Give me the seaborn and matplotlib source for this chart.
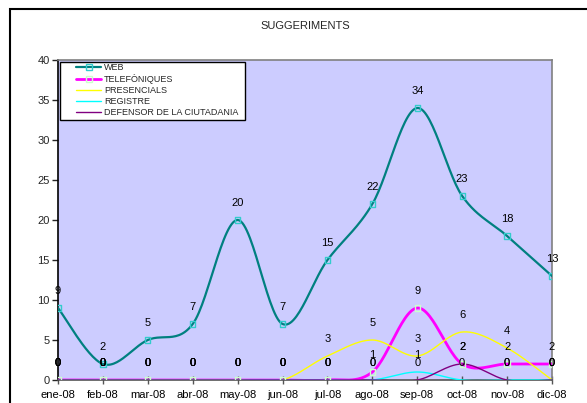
import numpy as np
import matplotlib
matplotlib.use("Agg")
import matplotlib.pyplot as plt
from matplotlib.lines import Line2D
from matplotlib.patches import Rectangle
import seaborn as sns

months = ["ene-08", "feb-08", "mar-08", "abr-08", "may-08", "jun-08",
          "jul-08", "ago-08", "sep-08", "oct-08", "nov-08", "dic-08"]
web = [9, 2, 5, 7, 20, 7, 15, 22, 34, 23, 18, 13]
telefoniques = [0, 0, 0, 0, 0, 0, 0, 1, 9, 2, 2, 2]
presencials = [0, 0, 0, 0, 0, 0, 3, 5, 3, 6, 4, 0]
registre = [0, 0, 0, 0, 0, 0, 0, 0, 1, 0, 0, 0]
defensor = [0, 0, 0, 0, 0, 0, 0, 0, 0, 2, 0, 0]

series = [
    ("WEB", web, "#008080", 1.6, "#33CCCC"),
    ("TELEFÒNIQUES", telefoniques, "#FF00FF", 2.0, "#CCFFCC"),
    ("PRESENCIALS", presencials, "#FFFF00", 1.0, None),
    ("REGISTRE", registre, "#00FFFF", 1.0, None),
    ("DEFENSOR DE LA CIUTADANIA", defensor, "#800080", 1.0, None),
]


def smooth(x, y, n=30):
    # catmull-rom style smoothing, like excel's "smoothed line"
    x = np.asarray(x, float)
    y = np.asarray(y, float)
    px = np.concatenate([[x[0]], x, [x[-1]]])
    py = np.concatenate([[y[0]], y, [y[-1]]])
    xs, ys = [], []
    t = np.linspace(0, 1, n)
    for i in range(1, len(px) - 2):
        p0, p1, p2, p3 = py[i - 1], py[i], py[i + 1], py[i + 2]
        q0, q1, q2, q3 = px[i - 1], px[i], px[i + 1], px[i + 2]
        c1y = p1 + (p2 - p0) / 6
        c2y = p2 - (p3 - p1) / 6
        c1x = q1 + (q2 - q0) / 6
        c2x = q2 - (q3 - q1) / 6
        b = [(1 - t) ** 3, 3 * (1 - t) ** 2 * t, 3 * (1 - t) * t ** 2, t ** 3]
        xs.append(b[0] * q1 + b[1] * c1x + b[2] * c2x + b[3] * q2)
        ys.append(b[0] * p1 + b[1] * c1y + b[2] * c2y + b[3] * p2)
    return np.concatenate(xs), np.concatenate(ys)


sns.set_style("white")
plt.rcParams["font.family"] = ["Liberation Sans", "DejaVu Sans"]

fig = plt.figure(figsize=(5.87, 4.03), dpi=100)
ax = fig.add_axes([58 / 587, 1 - 380 / 403, 494 / 587, 320 / 403])
ax.set_facecolor("#CCCCFF")

xpos = np.arange(len(months))
for name, vals, col, lw, mcol in series:
    sx, sy = smooth(xpos, vals)
    ax.plot(sx, sy, color=col, lw=lw, zorder=3)
    if mcol is not None:
        sns.scatterplot(x=xpos, y=vals, ax=ax, marker="s", s=14,
                        facecolor="none", edgecolor=mcol, linewidth=1.0,
                        zorder=4, legend=False)
    for xi, v in zip(xpos, vals):
        ax.annotate(str(v), (xi, v), xytext=(0, 12), textcoords="offset points",
                    ha="center", va="center", fontsize=8, color="black",
                    zorder=5, annotation_clip=False)

ax.set_xlim(0, len(months) - 1)
ax.set_ylim(0, 40)
ax.set_yticks(range(0, 41, 5))
ax.set_xticks(xpos)
ax.set_xticklabels(months)
ax.tick_params(axis="y", direction="out", length=4, width=1, labelsize=8, pad=2, left=True)
ax.tick_params(axis="x", direction="inout", length=6, width=1, labelsize=8, pad=4, bottom=True,
               colors="#555555", labelcolor="black")

for side in ["top", "right"]:
    ax.spines[side].set_color("#808080")
    ax.spines[side].set_linewidth(1.2)
ax.spines["left"].set_color("black")
ax.spines["left"].set_linewidth(1.2)
ax.spines["bottom"].set_color("#555555")
ax.spines["bottom"].set_linewidth(1.2)

fig.text(305 / 587, 1 - 26 / 403, "SUGGERIMENTS", ha="center", va="center", fontsize=8)

# legend box (excel style, wide with extra side padding)
ax.add_patch(Rectangle((2 / 494, 1 - 60 / 320), 185 / 494, 58 / 320,
                       transform=ax.transAxes, facecolor="white",
                       edgecolor="black", lw=1.0, zorder=9))
handles = []
for name, vals, col, lw, mcol in series:
    if mcol is not None:
        handles.append(Line2D([], [], color=col, lw=lw, marker="s", markersize=4,
                              markerfacecolor="none", markeredgecolor=mcol, label=name))
    else:
        handles.append(Line2D([], [], color=col, lw=lw, label=name))
leg = ax.legend(handles=handles, loc="upper left", bbox_to_anchor=(17 / 494, 1 - 2 / 320),
                borderaxespad=0, fontsize=6.5, frameon=False,
                handlelength=2.8, handletextpad=0.3, labelspacing=0.22,
                borderpad=0.1)
leg.set_zorder(10)

fig.patches.append(Rectangle((10 / 587, -0.1), 1.2, 1.1 - 9 / 403,
                             transform=fig.transFigure, fill=False,
                             edgecolor="black", lw=1.5))

fig.savefig("out.png", dpi=100)
